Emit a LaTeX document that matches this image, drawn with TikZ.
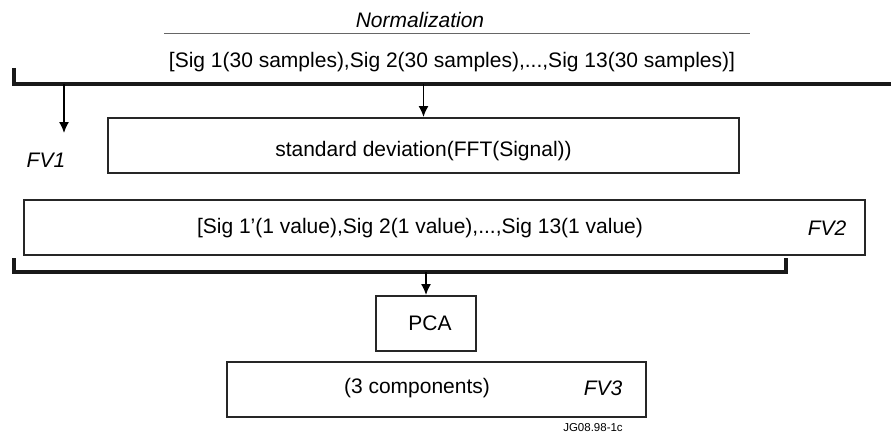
\documentclass[tikz,border=0pt]{standalone}
\usepackage{fontspec}
\setmainfont{Liberation Sans}
\usetikzlibrary{positioning,arrows.meta}

\begin{document}
\begin{tikzpicture}[x=1pt,y=-1pt,
  box/.style={rectangle,draw=black!85,line width=2pt,anchor=north west,inner sep=0pt,minimum height=55pt,minimum width=#1},
  lab/.style={font=\fontsize{21}{24}\selectfont},
  tag/.style={font=\fontsize{21}{24}\selectfont\itshape},
  bar/.style={line width=3.5pt,black!90},
  flow/.style={-{Latex[length=11pt,width=10pt]},line width=1.5pt},
]
\useasboundingbox (0,0) rectangle (891,436);

% Header
\node[tag] (norm) at (420,20) {Normalization};
\draw[black!60,line width=1pt] (164,34) coordinate (nL) -- (750,34) coordinate (nR);
\node[lab] (sig30) at (452,62) {[Sig 1(30 samples),Sig 2(30 samples),...,Sig 13(30 samples)]};

% Split bar 1
\coordinate (b1T) at (14,68);
\coordinate (b1L) at (14,84);
\coordinate (b1R) at (891,84);
\draw[bar] (b1T) -- (b1L) -- (b1R);

% Std box
\node[box=631pt,lab] (std) at (107,117) {};
\node[lab] (stdtxt) at ([yshift=-6pt]std.center) {standard deviation(FFT(Signal))};
\coordinate (fv1in) at (64,133);
\draw[flow] (64,84) -- (fv1in);
\draw[flow] (std.north |- b1L) -- (std.north);
\node[tag] (fv1) at (46,160) {FV1};

% FV2 box
\node[box=841pt] (fv2box) at (23,199) {};
\node[lab] (sig1) at (420,228) {[Sig 1'(1 value),Sig 2(1 value),...,Sig 13(1 value)};
\node[tag] (fv2) at (827,228) {FV2};

% Split bar 2
\coordinate (b2L) at (14,258);
\coordinate (b2LB) at (14,272);
\coordinate (b2RB) at (786,272);
\coordinate (b2R) at (786,258);
\draw[bar] (b2L) -- (b2LB) -- (b2RB) -- (b2R);

% PCA
\node[box=100pt,lab] (pca) at (375,295) {\hspace{8pt}PCA};
\draw[flow] (pca.north |- b2LB) -- (pca.north);

% FV3 box
\node[box=419pt] (fv3box) at (226,361) {};
\node[lab] (comp) at (417,388) {(3 components)};
\node[tag] (fv3) at (603,388) {FV3};

\node[font=\fontsize{11.5}{13}\selectfont] (jg) at (593,428) {JG08.98-1c};
\end{tikzpicture}
\end{document}
